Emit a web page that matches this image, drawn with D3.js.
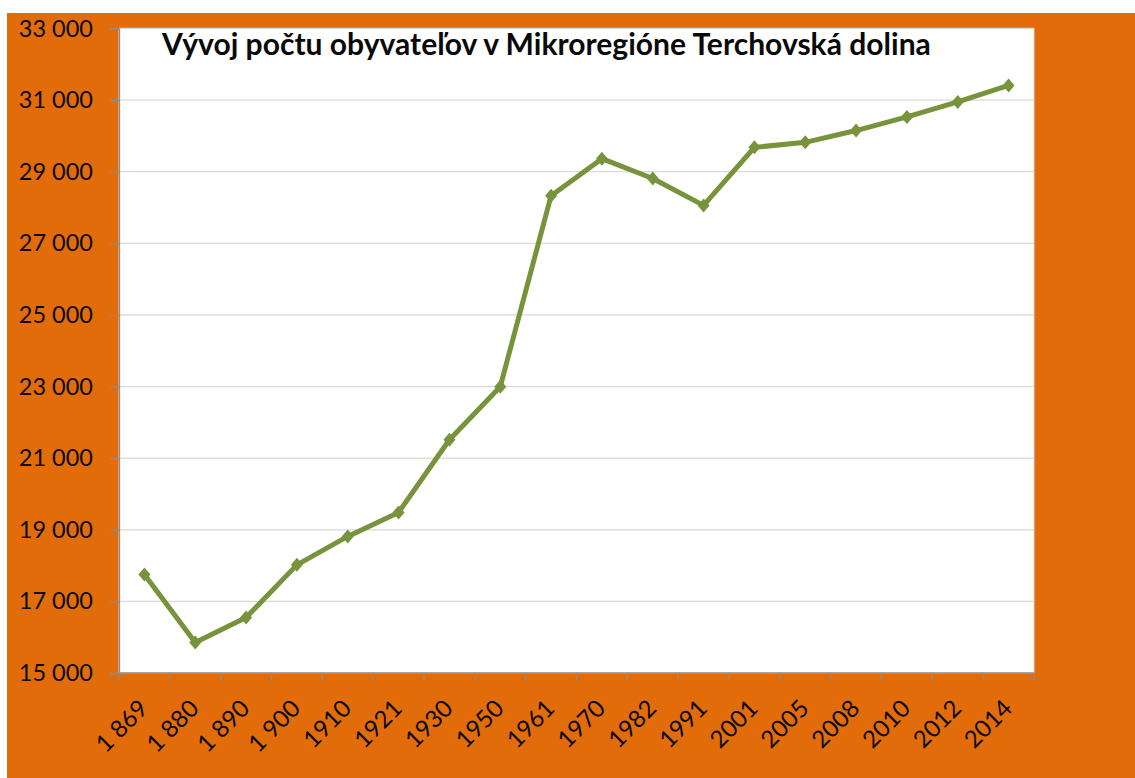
<!DOCTYPE html>
<html>
<head>
<meta charset="utf-8">
<script src="https://cdn.jsdelivr.net/npm/d3@7"></script>
<style>
  html, body { margin: 0; padding: 0; background: #fff; }
  svg { display: block; }
  text { font-family: Lato, "Open Sans", sans-serif; fill: #0a0a0a; }
</style>
</head>
<body>
<svg id="chart" width="1135" height="778"></svg>
<script>
// data
const years = ['1869', '1880', '1890', '1900', '1910', '1921', '1930', '1950', '1961',
    '1970', '1982', '1991', '2001', '2005', '2008', '2010', '2012', '2014'];
const yearLabels = ['1 869', '1 880', '1 890', '1 900', '1910', '1921', '1930', '1950', '1961',
    '1970', '1982', '1991', '2001', '2005', '2008', '2010', '2012', '2014'];
const population = [17750, 15855, 16550, 18020, 18815, 19485, 21515, 22995, 28330,
    29365, 28810, 28060, 29680, 29820, 30150, 30530, 30950, 31410];
const yTicks = [15000, 17000, 19000, 21000, 23000, 25000, 27000, 29000, 31000, 33000];
const yTickLabels = ['15 000', '17 000', '19 000', '21 000', '23 000', '25 000',
    '27 000', '29 000', '31 000', '33 000'];
const title = 'Vývoj počtu obyvateľov v Mikroregióne Terchovská dolina';

const W = 1135, H = 778;
const plot = { left: 119, right: 1034, top: 28.5, bottom: 673 };

const svg = d3.select('#chart');

svg.append('rect').attr('width', W).attr('height', H).attr('fill', '#fff');
svg.append('rect')
    .attr('x', 7).attr('y', 13)
    .attr('width', W - 7).attr('height', H - 13)
    .attr('fill', '#E36C0A');

svg.append('rect')
    .attr('x', plot.left).attr('y', plot.top)
    .attr('width', plot.right - plot.left).attr('height', plot.bottom - plot.top)
    .attr('fill', '#fff')
    .attr('stroke', '#d9d9d9');

const x = d3.scaleBand().domain(years).range([plot.left, plot.right]);
const y = d3.scaleLinear().domain([15000, 33000]).range([plot.bottom, plot.top]);

// gridlines
svg.append('g')
    .selectAll('line')
    .data(yTicks.slice(1))
    .enter()
    .append('line')
    .attr('x1', plot.left).attr('x2', plot.right)
    .attr('y1', d => y(d)).attr('y2', d => y(d))
    .attr('stroke', '#d9d9d9')
    .attr('stroke-width', 1.3);

// y axis
const yAxis = svg.append('g')
    .attr('transform', `translate(${plot.left},0)`)
    .call(d3.axisLeft(y)
        .tickValues(yTicks)
        .tickFormat((d, i) => yTickLabels[i])
        .tickSize(9)
        .tickPadding(17));
yAxis.select('.domain').attr('stroke', '#8c8c8c').attr('stroke-width', 1.3);
yAxis.selectAll('.tick line').attr('stroke', '#8c8c8c').attr('stroke-width', 1.3);
yAxis.selectAll('.tick text')
    .attr('font-family', 'Lato, sans-serif')
    .attr('font-size', 23.5)
    .attr('fill', '#0a0a0a');

// x axis
const xAxis = svg.append('g');
xAxis.append('line')
    .attr('x1', plot.left).attr('x2', plot.right)
    .attr('y1', plot.bottom).attr('y2', plot.bottom)
    .attr('stroke', '#8c8c8c').attr('stroke-width', 1.3);

const bounds = years.map(d => x(d)).concat([x(years[years.length - 1]) + x.bandwidth()]);
xAxis.selectAll('line.tick')
    .data(bounds)
    .enter()
    .append('line')
    .attr('class', 'tick')
    .attr('x1', d => d).attr('x2', d => d)
    .attr('y1', plot.bottom).attr('y2', plot.bottom + 8)
    .attr('stroke', '#8c8c8c').attr('stroke-width', 1.3);

xAxis.selectAll('text')
    .data(years)
    .enter()
    .append('text')
    .attr('transform', d => `translate(${x(d) + x.bandwidth() / 2 + 5},${plot.bottom + 37}) rotate(-45)`)
    .attr('text-anchor', 'end')
    .attr('font-size', 24)
    .text((d, i) => yearLabels[i]);

// line
const line = d3.line()
    .x((d, i) => x(years[i]) + x.bandwidth() / 2)
    .y(d => y(d));

svg.append('path')
    .datum(population)
    .attr('d', line)
    .attr('fill', 'none')
    .attr('stroke', '#77933C')
    .attr('stroke-width', 5)
    .attr('stroke-linejoin', 'round');

svg.append('g')
    .selectAll('path')
    .data(population)
    .enter()
    .append('path')
    .attr('transform', (d, i) => `translate(${x(years[i]) + x.bandwidth() / 2},${y(d)})`)
    .attr('d', 'M0,-7L6,0L0,7L-6,0Z')
    .attr('fill', '#77933C');

// title, sized to the width it takes in the picture
const t = svg.append('text')
    .attr('x', 162).attr('y', 55)
    .attr('font-weight', 'bold')
    .attr('font-size', 28)
    .text(title);
const tw = t.node().getComputedTextLength();
t.attr('font-size', 28 * 769 / tw);
</script>
</body>
</html>
